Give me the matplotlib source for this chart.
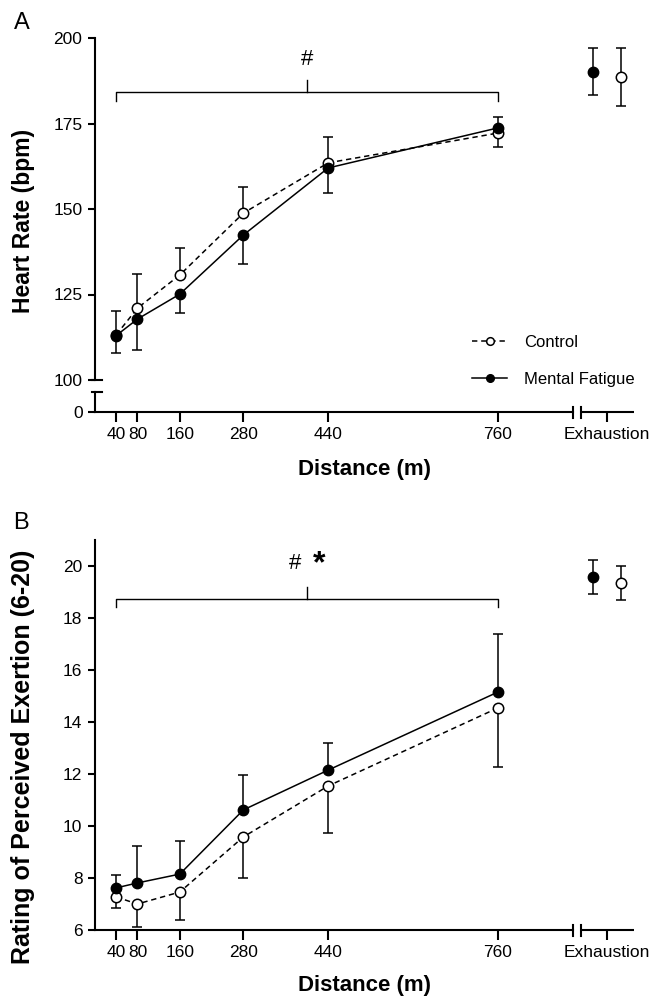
import matplotlib
matplotlib.use('Agg')
import matplotlib.pyplot as plt
from matplotlib.lines import Line2D

plt.rcParams['font.family'] = ['Liberation Sans', 'DejaVu Sans']

# distances (m) and the exhaustion point
distances = [40, 80, 160, 280, 440, 760]
tick_labels = ['40', '80', '160', '280', '440', '760', 'Exhaustion']
exh_pos = 966

# heart rate (bpm), error bars drawn one way only
hr_control = [113.2, 121.0, 130.7, 148.8, 163.5, 172.2]
hr_control_up = [7.1, 10.0, 7.9, 7.6, 7.6, 0.0]
hr_control_dn = [0.0, 0.0, 0.0, 0.0, 0.0, 4.1]
hr_mf = [113.0, 117.8, 125.1, 142.4, 162.0, 173.7]
hr_mf_up = [0.0, 0.0, 0.0, 0.0, 0.0, 3.2]
hr_mf_dn = [5.0, 9.0, 5.5, 8.5, 7.3, 0.0]
hr_exh_control, hr_exh_control_sd = 188.6, 8.5
hr_exh_mf, hr_exh_mf_sd = 190.1, 6.9

# rating of perceived exertion
rpe_control = [7.27, 7.0, 7.46, 9.58, 11.54, 14.54]
rpe_control_up = [0.0, 0.0, 0.0, 0.0, 0.0, 0.0]
rpe_control_dn = [0.42, 0.88, 1.08, 1.58, 1.81, 2.27]
rpe_mf = [7.62, 7.81, 8.15, 10.62, 12.15, 15.15]
rpe_mf_up = [0.50, 1.42, 1.27, 1.34, 1.06, 2.23]
rpe_mf_dn = [0.0, 0.0, 0.0, 0.0, 0.0, 0.0]
rpe_exh_control, rpe_exh_control_sd = 19.35, 0.64
rpe_exh_mf, rpe_exh_mf_sd = 19.58, 0.66

XMAX = 1017
BREAK_L, BREAK_R = 902, 917
EXH_OFF = 27
LW = 1.5
DASH = (3.5, 2.5)


def style_axis(ax):
    for s in ['top', 'right']:
        ax.spines[s].set_visible(False)
    ax.spines['left'].set_linewidth(LW)
    ax.spines['bottom'].set_linewidth(LW)
    ax.tick_params(direction='out', length=5, width=LW, labelsize=12.5, pad=4)
    ax.set_xlim(0, XMAX)


def draw_series(ax, ctrl, c_dn, c_up, mf, m_dn, m_up, ec, ec_sd, em, em_sd):
    kw = dict(color='black', lw=1.1, ms=7.5, capsize=3.5, elinewidth=1.1,
              capthick=1.1, clip_on=False)
    ax.errorbar(distances, ctrl, yerr=[c_dn, c_up], fmt='o', ls='--',
                mfc='white', mec='black', mew=1.1, zorder=3,
                dashes=DASH, **kw)
    ax.errorbar(distances, mf, yerr=[m_dn, m_up], fmt='o', ls='-',
                mfc='black', mec='black', zorder=4, **kw)
    ax.errorbar([exh_pos + EXH_OFF], [ec], yerr=[ec_sd], fmt='o',
                mfc='white', mec='black', mew=1.1, zorder=3, **kw)
    ax.errorbar([exh_pos - EXH_OFF], [em], yerr=[em_sd], fmt='o',
                mfc='black', mec='black', zorder=4, **kw)


def x_axis(ax):
    ax.spines['bottom'].set_bounds(0, BREAK_L)
    tr = ax.get_xaxis_transform()
    ax.plot([BREAK_R, XMAX], [0, 0], color='black', lw=LW, transform=tr,
            clip_on=False, solid_capstyle='butt')
    ax.set_xticks(distances + [exh_pos])
    ax.set_xticklabels(tick_labels)
    ax.tick_params(axis='x', length=7, pad=4)


def x_breaks(ax, h_px):
    tr = ax.get_xaxis_transform()
    d = 5.5 / h_px
    for xb in (BREAK_L, BREAK_R):
        ax.plot([xb, xb], [-d, d], color='black', lw=LW, transform=tr,
                clip_on=False)


def bracket(ax, y, drop, rise):
    x0, x1 = distances[0], distances[-1]
    xm = (x0 + x1) / 2
    ax.plot([x0, x0, x1, x1], [y - drop, y, y, y - drop], color='black',
            lw=1.0, clip_on=False)
    ax.plot([xm, xm], [y, y + rise], color='black', lw=1.0, clip_on=False)


W, H = 658, 999
fig = plt.figure(figsize=(W / 100, H / 100), dpi=100)

L = 95 / W
AW = (634 - 95) / W

# ---------- panel A ----------
ax_a = fig.add_axes([L, 1 - 380 / H, AW, 342 / H])
ax_a0 = fig.add_axes([L, 1 - 412 / H, AW, 20 / H])
for ax in (ax_a, ax_a0):
    style_axis(ax)
    ax.patch.set_alpha(0)

ax_a.set_ylim(100, 200)
ax_a.set_yticks([100, 125, 150, 175, 200])
ax_a.spines['bottom'].set_visible(False)
ax_a.tick_params(axis='x', bottom=False, labelbottom=False)
ax_a0.set_ylim(0, 1)
ax_a0.set_yticks([0])
x_axis(ax_a0)
x_breaks(ax_a0, 20)

# y break stubs
ax_a.plot([-3 / 539, 7 / 539], [0, 0], color='black', lw=LW,
          transform=ax_a.transAxes, clip_on=False)
ax_a0.plot([-3 / 539, 7 / 539], [1, 1], color='black', lw=LW,
           transform=ax_a0.transAxes, clip_on=False)

draw_series(ax_a, hr_control, hr_control_dn, hr_control_up,
            hr_mf, hr_mf_dn, hr_mf_up,
            hr_exh_control, hr_exh_control_sd,
            hr_exh_mf, hr_exh_mf_sd)

bracket(ax_a, 184.2, 2.6, 3.5)
ax_a.text(400, 193.6, '#', ha='center', va='center', fontsize=16)

ax_a.set_ylabel('Heart Rate (bpm)', fontsize=16.5, fontweight='bold')
ax_a.yaxis.set_label_coords(-0.112, 0.465)

h_c = Line2D([], [], color='black', lw=1.1, ls='--', dashes=DASH,
             marker='o', ms=5.5, mfc='white', mec='black', mew=1.1)
h_m = Line2D([], [], color='black', lw=1.1, marker='o', ms=5.5,
             mfc='black', mec='black')
ax_a.legend([h_c, h_m], ['Control', 'Mental Fatigue'],
            loc='center left', bbox_to_anchor=(464 / W, 1 - 361 / H),
            bbox_transform=fig.transFigure, frameon=False,
            fontsize=12, handlelength=2.1, handletextpad=1.0,
            labelspacing=1.35, borderpad=0)

fig.text(364 / W, 1 - 470 / H, 'Distance (m)', ha='center', va='center',
         fontsize=16, fontweight='bold')
fig.text(22 / W, 1 - 23 / H, 'A', ha='center', va='center', fontsize=17)

# ---------- panel B ----------
ax_b = fig.add_axes([L, 1 - 930 / H, AW, 390 / H])
style_axis(ax_b)
ax_b.set_ylim(6, 21)
ax_b.set_yticks([6, 8, 10, 12, 14, 16, 18, 20])
x_axis(ax_b)
x_breaks(ax_b, 390)

draw_series(ax_b, rpe_control, rpe_control_dn, rpe_control_up,
            rpe_mf, rpe_mf_dn, rpe_mf_up,
            rpe_exh_control, rpe_exh_control_sd,
            rpe_exh_mf, rpe_exh_mf_sd)

bracket(ax_b, 18.73, 0.32, 0.46)
ax_b.text(378, 20.1, '#', ha='center', va='center', fontsize=16)
ax_b.text(423, 20.05, '*', ha='center', va='center', fontsize=23,
          fontweight='bold')

ax_b.set_ylabel('Rating of Perceived Exertion (6-20)', fontsize=18,
                fontweight='bold')
ax_b.yaxis.set_label_coords(-0.112, 0.444)

fig.text(364 / W, 1 - 985 / H, 'Distance (m)', ha='center', va='center',
         fontsize=16, fontweight='bold')
fig.text(21 / W, 1 - 523 / H, 'B', ha='center', va='center', fontsize=17)

fig.savefig('out.png', dpi=100)
